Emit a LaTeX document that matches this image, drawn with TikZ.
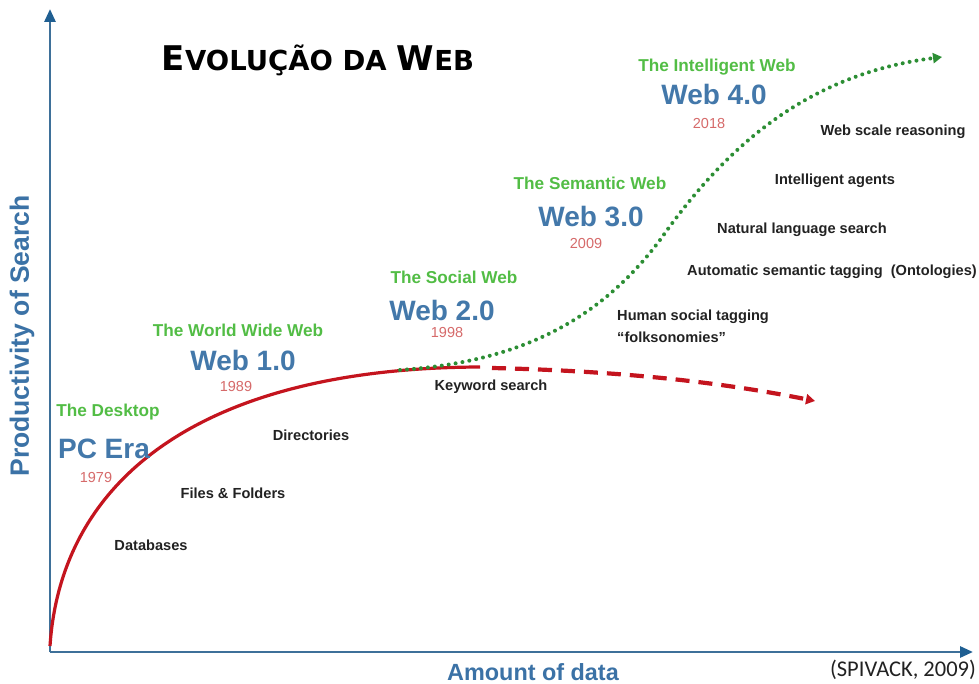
\documentclass[tikz,border=0pt]{standalone}
\usepackage{fontspec}
\setmainfont{Liberation Sans}
\newfontfamily\titlefont{DejaVu Sans}
\newfontfamily\citefont{Carlito}
\usetikzlibrary{arrows.meta}
\definecolor{axisblue}{HTML}{3E7099}
\definecolor{tipblue}{HTML}{1F5F92}
\definecolor{labelblue}{HTML}{3B72A6}
\definecolor{webblue}{HTML}{4378AA}
\definecolor{webgreen}{HTML}{52BD45}
\definecolor{yearred}{HTML}{D66A6A}
\definecolor{curvered}{HTML}{C4141E}
\definecolor{dotgreen}{HTML}{2C8E34}
\definecolor{txtblack}{HTML}{222222}
\tikzset{
  eratitle/.style={text=webgreen,font=\fontsize{17.2}{19}\selectfont\bfseries,inner sep=0pt},
  eraname/.style={text=webblue,font=\fontsize{28}{32}\selectfont\bfseries,inner sep=0pt},
  erayear/.style={text=yearred,font=\fontsize{14.5}{16}\selectfont,inner sep=0pt},
  feature/.style={text=txtblack,font=\fontsize{14.6}{17}\selectfont\bfseries,inner sep=0pt},
  axislabel/.style={text=labelblue,inner sep=0pt},
  axisline/.style={draw=axisblue,line width=2.8pt,-{Triangle[length=13pt,width=11pt,color=tipblue]}},
}
\begin{document}
\begin{tikzpicture}[x=1pt,y=-1pt]
\useasboundingbox (0,0) rectangle (979,684);
\fill[white] (0,0) rectangle (979,684);
% axes
\coordinate (O) at (50,652);
\coordinate (ytop) at (50,9);
\coordinate (xend) at (973,652);
\draw[axisline] (O) -- (ytop);
\draw[axisline] (O) -- (xend);
% title
\node[inner sep=0pt] (title) at (318,60) {\titlefont\bfseries\fontsize{34}{36}\selectfont E{\fontsize{27.5}{30}\selectfont VOLUÇÃO\hspace{0.35em}DA}\hspace{0.3em}W{\fontsize{27.5}{30}\selectfont EB}};
% axis labels
\node[axislabel,rotate=90,font=\fontsize{26.5}{28}\selectfont\bfseries] (ylab) at (22,336) {Productivity of Search};
\node[axislabel,font=\fontsize{23.4}{26}\selectfont\bfseries] (xlab) at (533,672) {Amount of data};
\node[inner sep=0pt,text=txtblack,font=\citefont\fontsize{22.5}{24}\selectfont] (cite) at (903,670) {(SPIVACK, 2009)};
% curves
\coordinate (c0) at (50,646);
\coordinate (c1) at (480,367);
\coordinate (d0) at (492,368);
\coordinate (d1) at (815,401);
\coordinate (g0) at (400,370);
\coordinate (g1) at (660,240);
\coordinate (g2) at (942,57);
\draw[curvered,line width=3.2pt] (c0) .. controls (61,480) and (200,368) .. (c1);
\draw[curvered,line width=4.2pt,dash pattern=on 14pt off 9pt,-{Triangle[length=9pt,width=10pt]}] (d0) .. controls (620,371) and (720,382) .. (d1);
\draw[dotgreen,line width=4pt,line cap=round,dash pattern=on 0pt off 7pt,-{Triangle[length=9pt,width=10pt]}] (g0) .. controls (520,362) and (600,320) .. (g1) .. controls (720,155) and (800,75) .. (g2);
% eras
\node[eratitle] (t1) at (108,412) {The Desktop};
\node[eraname] (n1) at (104,449) {PC Era};
\node[erayear] (y1) at (96,478) {1979};
\node[eratitle] (t2) at (238,330) {The World Wide Web};
\node[eraname] (n2) at (243,360) {Web 1.0};
\node[erayear] (y2) at (236,387) {1989};
\node[eratitle] (t3) at (454,277) {The Social Web};
\node[eraname] (n3) at (442,310) {Web 2.0};
\node[erayear] (y3) at (447,333) {1998};
\node[eratitle] (t4) at (590,183) {The Semantic Web};
\node[eraname] (n4) at (591,217) {Web 3.0};
\node[erayear] (y4) at (586,244) {2009};
\node[eratitle] (t5) at (717,67) {The Intelligent Web};
\node[eraname] (n5) at (714,94) {Web 4.0};
\node[erayear] (y5) at (709,124) {2018};
% features
\node[feature] (f1) at (893,132) {Web scale reasoning};
\node[feature] (f2) at (835,181) {Intelligent agents};
\node[feature] (f3) at (802,230) {Natural language search};
\node[feature] (f4) at (832,272) {Automatic semantic tagging\ \ (Ontologies)};
\node[feature,anchor=west] (f5) at (617,317) {Human social tagging};
\node[feature,anchor=west] (f6) at (617,337) {“folksonomies”};
\node[feature] (f7) at (491,387) {Keyword search};
\node[feature] (f8) at (311,435) {Directories};
\node[feature] (f9) at (233,493) {Files \& Folders};
\node[feature] (f10) at (151,545) {Databases};
\end{tikzpicture}
\end{document}
